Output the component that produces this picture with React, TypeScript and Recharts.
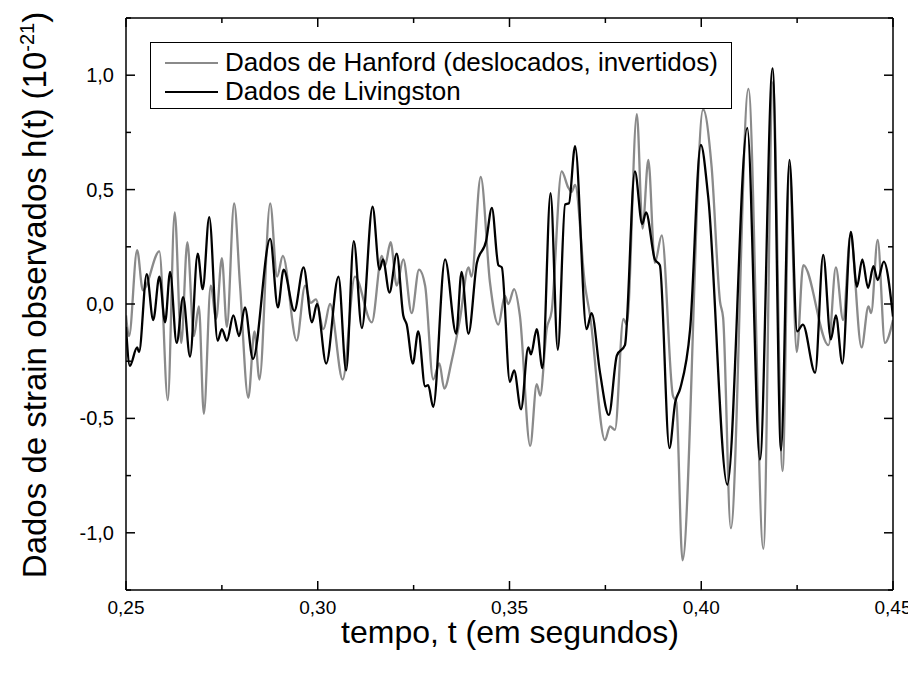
import React from 'react';
import { LineChart, Line, XAxis, YAxis, Legend } from 'recharts';

// [t (s), h(t) (1e-21)]
const hanfordPoints: [number, number][] = [
  [0.2500, -0.05], [0.2508, -0.14], [0.2529, 0.235], [0.2544, 0.06], [0.2587, 0.23],
  [0.2609, -0.42], [0.2627, 0.40], [0.2644, -0.17], [0.2660, 0.27], [0.2677, -0.14],
  [0.2690, -0.01], [0.2703, -0.48], [0.2721, 0.08], [0.2735, -0.065], [0.2750, 0.20],
  [0.2763, -0.10], [0.2782, 0.44], [0.2797, 0.09], [0.2819, -0.41], [0.2835, -0.12],
  [0.2848, -0.33], [0.2876, 0.44], [0.2894, 0.12], [0.2909, 0.21], [0.2945, -0.16],
  [0.2967, 0.08], [0.2982, 0.005], [0.2995, 0.02], [0.3015, -0.11], [0.3032, 0.0],
  [0.3065, -0.33], [0.3097, 0.12], [0.3141, -0.08], [0.3167, 0.21], [0.3175, 0.165],
  [0.3190, 0.27], [0.3206, 0.08], [0.3223, 0.195], [0.3245, -0.04], [0.3264, 0.15],
  [0.3280, 0.08], [0.3301, -0.33], [0.3317, -0.26], [0.3330, -0.37], [0.3349, -0.25],
  [0.3371, -0.065], [0.3393, 0.16], [0.3401, 0.12], [0.3425, 0.555], [0.3449, 0.095],
  [0.3471, -0.09], [0.3488, 0.035], [0.3497, 0.0], [0.3512, 0.065], [0.3527, -0.05],
  [0.3554, -0.62], [0.3571, -0.35], [0.3580, -0.40], [0.3597, -0.11], [0.3610, -0.03],
  [0.3636, 0.58], [0.3653, 0.51], [0.3662, 0.49], [0.3671, 0.52], [0.3697, 0.08],
  [0.3710, -0.05], [0.3749, -0.595], [0.3762, -0.535], [0.3775, -0.55], [0.3797, -0.065],
  [0.3806, -0.09], [0.3832, 0.83], [0.3847, 0.33], [0.3862, 0.63], [0.3879, 0.18],
  [0.3897, 0.30], [0.3926, -0.40], [0.3935, -0.43], [0.3951, -1.12], [0.4005, 0.85],
  [0.4027, 0.60], [0.4049, 0.01], [0.4057, -0.06], [0.4077, -0.98], [0.4123, 0.94],
  [0.4162, -1.07], [0.4187, 0.97], [0.4212, -0.73], [0.4230, 0.60], [0.4249, -0.21],
  [0.4266, 0.17], [0.4332, -0.18], [0.4351, 0.16], [0.4370, -0.07], [0.4389, 0.30],
  [0.4418, -0.19], [0.4436, -0.01], [0.4443, -0.04], [0.4460, 0.28], [0.4479, -0.17],
  [0.4500, -0.07],
];

const livingstonPoints: [number, number][] = [
  [0.2500, -0.10], [0.2510, -0.27], [0.2529, -0.19], [0.2534, -0.21], [0.2554, 0.13],
  [0.2571, -0.07], [0.2587, 0.12], [0.2602, -0.08], [0.2615, 0.14], [0.2632, -0.17],
  [0.2649, 0.03], [0.2667, -0.23], [0.2687, 0.22], [0.2700, 0.065], [0.2717, 0.38],
  [0.2739, -0.16], [0.2750, -0.11], [0.2763, -0.16], [0.2780, -0.05], [0.2795, -0.14],
  [0.2810, -0.015], [0.2831, -0.24], [0.2876, 0.285], [0.2896, -0.015], [0.2911, 0.15],
  [0.2939, -0.03], [0.2963, 0.16], [0.2985, -0.08], [0.2998, 0.0], [0.3022, -0.26],
  [0.3054, 0.12], [0.3074, -0.29], [0.3094, 0.275], [0.3115, -0.105], [0.3143, 0.425],
  [0.3161, 0.15], [0.3170, 0.195], [0.3187, 0.05], [0.3206, 0.22], [0.3223, -0.05],
  [0.3232, -0.09], [0.3248, -0.26], [0.3262, -0.12], [0.3280, -0.36], [0.3288, -0.355],
  [0.3301, -0.45], [0.3332, 0.195], [0.3361, -0.13], [0.3375, 0.14], [0.3393, -0.13],
  [0.3415, 0.18], [0.3439, 0.275], [0.3454, 0.42], [0.3471, 0.17], [0.3480, 0.16],
  [0.3501, -0.34], [0.3512, -0.29], [0.3530, -0.46], [0.3549, -0.19], [0.3556, -0.22],
  [0.3571, -0.11], [0.3586, -0.28], [0.3607, 0.485], [0.3626, -0.20], [0.3645, 0.435],
  [0.3655, 0.44], [0.3671, 0.69], [0.3701, -0.11], [0.3714, -0.04], [0.3736, -0.30],
  [0.3759, -0.485], [0.3780, -0.225], [0.3801, -0.18], [0.3827, 0.58], [0.3846, 0.35],
  [0.3856, 0.40], [0.3879, 0.195], [0.3892, 0.17], [0.3917, -0.63], [0.3932, -0.43],
  [0.3945, -0.37], [0.3971, -0.11], [0.3999, 0.695], [0.4018, 0.47], [0.4068, -0.79],
  [0.4120, 0.77], [0.4153, -0.68], [0.4186, 1.03], [0.4208, -0.64], [0.4230, 0.63],
  [0.4250, -0.12], [0.4265, -0.09], [0.4297, -0.30], [0.4318, 0.215], [0.4338, -0.155],
  [0.4351, -0.05], [0.4368, -0.26], [0.4390, 0.315], [0.4406, 0.075], [0.4420, 0.195],
  [0.4435, 0.07], [0.4449, 0.165], [0.4460, 0.105], [0.4476, 0.185], [0.4500, -0.055],
];

const xMajorTicks = [0.25, 0.3, 0.35, 0.4, 0.45];
const xMinorTicks = [0.275, 0.325, 0.375, 0.425];
const yMajorTicks = [-1, -0.5, 0, 0.5, 1];
const yMinorTicks = [-1.25, -0.75, -0.25, 0.25, 0.75, 1.25];
const seriesNames = ['Dados de Hanford (deslocados, invertidos)', 'Dados de Livingston'];
const seriesColors = ['#8a8a8a', '#000000'];
const xTitle = 'tempo, t (em segundos)';
const yTitleMain = 'Dados de strain observados h(t) (10';
const yTitleExp = '-21';

const FONT = '"Liberation Sans", Arial, Helvetica, sans-serif';

const hanfordData = hanfordPoints.map(([t, h]) => ({ t, h }));
const livingstonData = livingstonPoints.map(([t, h]) => ({ t, h }));
const xTicks = [...xMajorTicks, ...xMinorTicks].sort((a, b) => a - b);
const yTicks = [...yMajorTicks, ...yMinorTicks].sort((a, b) => a - b);

const isIn = (v: number, arr: number[]) => arr.some((a) => Math.abs(a - v) < 1e-6);
const fmtX = (v: number) => v.toFixed(2).replace('.', ',');
const fmtY = (v: number) => v.toFixed(1).replace('.', ',');

const MAJOR = 9;
const MINOR = 5;
const SW = 1.5;

const BottomTick = (p: any) => {
  const v = p.payload.value;
  const major = isIn(v, xMajorTicks);
  return (
    <g>
      <line x1={p.x} x2={p.x} y1={p.y} y2={p.y - (major ? MAJOR : MINOR)} stroke="#000" strokeWidth={SW} />
      {major && (
        <text x={p.x} y={p.y + 24} textAnchor="middle" fontSize={19} fontFamily={FONT} fill="#000">
          {fmtX(v)}
        </text>
      )}
    </g>
  );
};

const TopTick = (p: any) => {
  const v = p.payload.value;
  const major = isIn(v, xMajorTicks);
  return <line x1={p.x} x2={p.x} y1={p.y} y2={p.y + (major ? MAJOR : MINOR)} stroke="#000" strokeWidth={SW} />;
};

const LeftTick = (p: any) => {
  const v = p.payload.value;
  const major = isIn(v, yMajorTicks);
  return (
    <g>
      <line x1={p.x} x2={p.x + (major ? MAJOR : MINOR)} y1={p.y} y2={p.y} stroke="#000" strokeWidth={SW} />
      {major && (
        <text x={p.x - 12} y={p.y + 7} textAnchor="end" fontSize={20} fontFamily={FONT} fill="#000">
          {fmtY(v)}
        </text>
      )}
    </g>
  );
};

const RightTick = (p: any) => {
  const v = p.payload.value;
  const major = isIn(v, yMajorTicks);
  return <line x1={p.x} x2={p.x - (major ? MAJOR : MINOR)} y1={p.y} y2={p.y} stroke="#000" strokeWidth={SW} />;
};

const YTitle = () => (
  <text
    x={38}
    y={287}
    transform="rotate(-90, 38, 287)"
    textAnchor="middle"
    fontSize={33}
    fontFamily={FONT}
    fill="#000"
  >
    {yTitleMain}
    <tspan dy={-12} fontSize={20}>{yTitleExp}</tspan>
    <tspan dy={12}>)</tspan>
  </text>
);

const XTitle = () => (
  <text x={502} y={635} textAnchor="middle" fontSize={32} fontFamily={FONT} fill="#000">
    {xTitle}
  </text>
);

const LegendBox = () => (
  <div
    style={{
      border: '1px solid #000',
      background: '#fff',
      boxSizing: 'border-box',
      width: 582,
      height: 67,
      padding: '5px 0 0 14px',
      fontFamily: FONT,
      fontSize: 26,
      color: '#000',
    }}
  >
    {seriesNames.map((name, i) => (
      <div key={name} style={{ display: 'flex', alignItems: 'center', height: 29, whiteSpace: 'nowrap' }}>
        <svg width={60} height={10} style={{ flex: 'none' }}>
          <line x1={0} x2={53} y1={5} y2={5} stroke={seriesColors[i]} strokeWidth={2} />
        </svg>
        <span>{name}</span>
      </div>
    ))}
  </div>
);

export default function App() {
  return (
    <LineChart width={908} height={658} margin={{ top: 9, right: 22, bottom: 36, left: 58 }}>
      <XAxis
        xAxisId="bottom"
        dataKey="t"
        type="number"
        domain={[0.25, 0.45]}
        ticks={xTicks}
        interval={0}
        allowDataOverflow
        height={40}
        tickSize={0}
        tickMargin={0}
        tickLine={false}
        axisLine={{ stroke: '#000', strokeWidth: SW }}
        tick={(p: any) => <BottomTick {...p} />}
        label={{ content: () => <XTitle /> }}
      />
      <XAxis
        xAxisId="top"
        orientation="top"
        dataKey="t"
        type="number"
        domain={[0.25, 0.45]}
        ticks={xTicks}
        interval={0}
        allowDataOverflow
        height={1}
        tickSize={0}
        tickMargin={0}
        tickLine={false}
        axisLine={{ stroke: '#000', strokeWidth: SW }}
        tick={(p: any) => <TopTick {...p} />}
      />
      <YAxis
        yAxisId="left"
        type="number"
        domain={[-1.25, 1.25]}
        ticks={yTicks}
        interval={0}
        allowDataOverflow
        width={60}
        tickSize={0}
        tickMargin={0}
        tickLine={false}
        axisLine={{ stroke: '#000', strokeWidth: SW }}
        tick={(p: any) => <LeftTick {...p} />}
        label={{ content: () => <YTitle /> }}
      />
      <YAxis
        yAxisId="right"
        orientation="right"
        type="number"
        domain={[-1.25, 1.25]}
        ticks={yTicks}
        interval={0}
        allowDataOverflow
        width={1}
        tickSize={0}
        tickMargin={0}
        tickLine={false}
        axisLine={{ stroke: '#000', strokeWidth: SW }}
        tick={(p: any) => <RightTick {...p} />}
      />
      <Legend
        layout="vertical"
        align="center"
        verticalAlign="middle"
        wrapperStyle={{ left: 142, top: 34, width: 582, height: 67 }}
        content={() => <LegendBox />}
      />
      {/* invisible series that binds the mirrored top/right frame axes */}
      <Line
        xAxisId="top"
        yAxisId="right"
        data={livingstonData}
        dataKey="h"
        type="monotone"
        stroke="none"
        strokeOpacity={0}
        dot={false}
        activeDot={false}
        legendType="none"
        tooltipType="none"
        isAnimationActive={false}
      />
      <Line
        xAxisId="bottom"
        yAxisId="left"
        data={hanfordData}
        dataKey="h"
        name={seriesNames[0]}
        type="monotone"
        stroke={seriesColors[0]}
        strokeWidth={2.3}
        dot={false}
        activeDot={false}
        isAnimationActive={false}
      />
      <Line
        xAxisId="bottom"
        yAxisId="left"
        data={livingstonData}
        dataKey="h"
        name={seriesNames[1]}
        type="monotone"
        stroke={seriesColors[1]}
        strokeWidth={2.3}
        dot={false}
        activeDot={false}
        isAnimationActive={false}
      />
    </LineChart>
  );
}
